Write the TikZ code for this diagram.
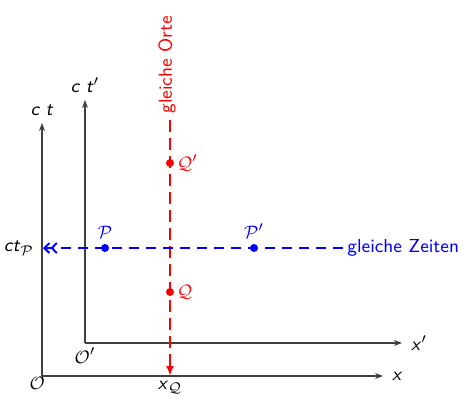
\documentclass[tikz,border=0pt]{standalone}
\renewcommand{\familydefault}{\sfdefault}
\usetikzlibrary{arrows.meta,positioning}
\newcommand{\mv}[1]{\textit{#1}}
\tikzset{
  axis/.style={-{Stealth[length=4pt,width=3pt]},line width=0.6pt,draw=black!75},
  place line/.style={red,line width=1pt,dash pattern=on 6pt off 3pt,-{Latex[length=5pt,width=4pt]}},
  time line/.style={blue,line width=1pt,dash pattern=on 5pt off 3.5pt,-{Straight Barb[length=2.5pt,width=5pt]Straight Barb[length=2.5pt,width=5pt]}},
  event/.style={circle,fill,inner sep=0pt,minimum size=4pt}
}
\begin{document}
\begin{tikzpicture}[x=0.5pt,y=-0.5pt,font=\fontsize{9.4}{11}\selectfont]
  \useasboundingbox (0,0) rectangle (472,396);

  % Koordinatensysteme
  \coordinate (O) at (42,376);
  \coordinate (Op) at (85,343);
  \coordinate (ctend) at (42,123);
  \coordinate (ctpend) at (85,100);
  \coordinate (xend) at (383,376);
  \coordinate (xpend) at (402,343);

  \draw[axis] (O) -- (xend);
  \draw[axis] (O) -- (ctend);
  \draw[axis] (Op) -- (xpend);
  \draw[axis] (Op) -- (ctpend);

  \node[right=1pt] (xlab) at (xend) {\mv{x}};
  \node[above=0pt] (ctlab) at (ctend) {\mv{c t}};
  \node[right=1pt] (xplab) at (xpend) {\mv{x}$'$};
  \node[above=0pt] (ctplab) at (ctpend) {\mv{c t}$'$};
  \node[below left=-3pt and -5pt] (Olab) at (O) {$\mathcal{O}$};
  \node[below=-1pt] (Oplab) at (Op) {$\mathcal{O}'$};

  % gleiche Orte
  \coordinate (orttop) at (170,120);
  \coordinate (xQ) at (170,376);
  \node[event,red] (Qp) at (170,163) {};
  \node[event,red] (Q) at (170,292) {};
  \draw[place line] (orttop) -- (xQ);
  \node[red,rotate=90,anchor=west,inner sep=2pt] (ortlab) at (167,118) {gleiche Orte};
  \node[red,right=0pt] (Qplab) at (Qp) {$\mathcal{Q}'$};
  \node[red,right=0pt] (Qlab) at (Q) {$\mathcal{Q}$};
  \node[below=-1pt] (xQlab) at (xQ) {\mv{x}$_{\mathcal{Q}}$};

  % gleiche Zeiten
  \node[blue,anchor=west,inner sep=2pt] (zeitlab) at (343,248) {gleiche Zeiten};
  \coordinate (ctP) at (43,248);
  \node[event,blue] (P) at (105,248) {};
  \node[event,blue] (Pp) at (254,248) {};
  \draw[time line] (zeitlab.west) -- (ctP);
  \node[blue,above=1pt] (Plab) at (P) {$\mathcal{P}$};
  \node[blue,above=1pt] (Pplab) at (Pp) {$\mathcal{P}'$};
  \node[left=1pt] (ctPlab) at (ctP) {\mv{ct}$_{\mathcal{P}}$};
\end{tikzpicture}
\end{document}
